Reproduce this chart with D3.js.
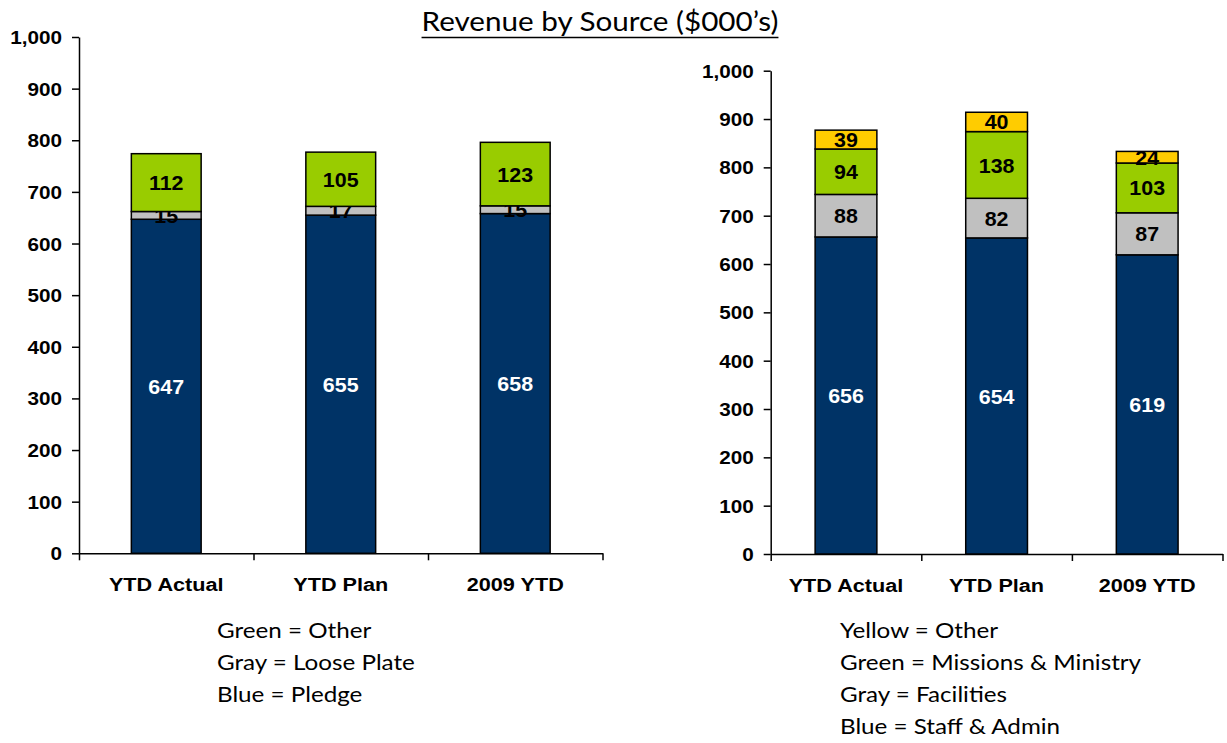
<!DOCTYPE html>
<html>
<head>
<meta charset="utf-8">
<script src="https://cdn.jsdelivr.net/npm/d3@7"></script>
<style>
  body { margin: 0; background: #fff; }
  svg text { font-family: "Liberation Sans", Arial, sans-serif; }
  .tick text { font-size: 18px; font-weight: bold; fill: #000; }
  .note { font-family: Lato, "Open Sans", sans-serif !important; font-size: 22px; }
</style>
</head>
<body>
<div id="chart"></div>
<script>
// categories shared by both panels
let categories = ["YTD Actual", "YTD Plan", "2009 YTD"];

// left panel: Pledge / Loose Plate / Other
let pledge = [647, 655, 658];
let loosePlate = [15, 17, 15];
let otherLeft = [112, 105, 123];

// right panel: Staff & Admin / Facilities / Missions & Ministry / Other
let staffAdmin = [656, 654, 619];
let facilities = [88, 82, 87];
let missions = [94, 138, 103];
let otherRight = [39, 40, 24];

let yTicks = [0, 100, 200, 300, 400, 500, 600, 700, 800, 900, 1000];
let leftNotes = ["Green = Other", "Gray = Loose Plate", "Blue = Pledge"];
let rightNotes = ["Yellow = Other", "Green = Missions & Ministry", "Gray = Facilities", "Blue = Staff & Admin"];

let navy = "#003366", gray = "#c0c0c0", green = "#99cc00", yellow = "#ffcc00";

let svg = d3.select("#chart").append("svg")
    .attr("width", 1227)
    .attr("height", 743);

// the source text is a bit wider than the fonts we have, so stretch it sideways
function stretch(sel, sx) {
    sel.each(function () {
        let t = d3.select(this);
        t.attr("x", (+t.attr("x") || 0) / sx)
         .attr("transform", "scale(" + sx + ",1)");
    });
}

// title
let title = svg.append("text")
    .attr("x", 600)
    .attr("y", 31)
    .attr("text-anchor", "middle")
    .attr("class", "note")
    .style("font-size", "26px")
    .text("Revenue by Source ($000\u2019s)")
    .call(stretch, 1.14);
let tb = title.node().getBBox();
svg.append("line")
    .attr("x1", tb.x * 1.14).attr("x2", (tb.x + tb.width) * 1.14)
    .attr("y1", 37.5).attr("y2", 37.5)
    .attr("stroke", "#000").attr("stroke-width", 1.5);

function drawPanel(cfg) {
    let rows = categories.map(function (c, i) {
        let r = { cat: c };
        cfg.series.forEach(function (s) { r[s.key] = s.values[i]; });
        return r;
    });
    let keys = cfg.series.map(function (s) { return s.key; });
    let stacked = d3.stack().keys(keys)(rows);

    let x = d3.scaleBand()
        .domain(categories)
        .range([cfg.left, cfg.right])
        .paddingInner(cfg.pad)
        .paddingOuter(cfg.pad / 2);
    let y = d3.scaleLinear()
        .domain([0, 1000])
        .range([cfg.bottom, cfg.top]);

    let g = svg.append("g");

    // y axis
    let yAxis = d3.axisLeft(y)
        .tickValues(yTicks)
        .tickFormat(d3.format(","))
        .tickSize(7)
        .tickSizeOuter(0)
        .tickPadding(10);
    let ya = g.append("g")
        .attr("transform", "translate(" + cfg.left + ",0)")
        .call(yAxis);
    ya.select(".domain").attr("stroke-width", 1.5);
    ya.selectAll(".tick line").attr("stroke-width", 1.5);
    ya.selectAll(".tick text").attr("dy", "0.36em").call(stretch, 1.15);

    // x axis with ticks at band boundaries
    let xb = d3.scaleLinear().domain([0, categories.length]).range([cfg.left, cfg.right]);
    let xa = g.append("g")
        .attr("transform", "translate(0," + cfg.bottom + ")")
        .call(d3.axisBottom(xb).ticks(categories.length).tickFormat("").tickSize(7).tickSizeOuter(0));
    xa.select(".domain").attr("stroke-width", 1.5);
    xa.selectAll(".tick line").attr("stroke-width", 1.5);

    g.selectAll(".cat")
        .data(categories)
        .enter().append("text")
        .attr("x", function (d) { return x(d) + x.bandwidth() / 2; })
        .attr("y", cfg.bottom + 38)
        .attr("text-anchor", "middle")
        .style("font-size", "19px")
        .style("font-weight", "bold")
        .text(function (d) { return d; })
        .call(stretch, 1.14);

    // bars
    let layers = g.selectAll(".layer")
        .data(stacked)
        .enter().append("g")
        .attr("fill", function (d, i) { return cfg.series[i].color; });

    layers.selectAll("rect")
        .data(function (d) { return d; })
        .enter().append("rect")
        .attr("x", function (d) { return x(d.data.cat); })
        .attr("y", function (d) { return y(d[1]); })
        .attr("width", x.bandwidth())
        .attr("height", function (d) { return y(d[0]) - y(d[1]); })
        .attr("stroke", "#000")
        .attr("stroke-width", 1.5);

    layers.each(function (layer, i) {
        d3.select(this).selectAll("text")
            .data(layer)
            .enter().append("text")
            .attr("x", function (d) { return x(d.data.cat) + x.bandwidth() / 2; })
            .attr("y", function (d) { return (y(d[0]) + y(d[1])) / 2; })
            .attr("dy", "0.36em")
            .attr("text-anchor", "middle")
            .style("font-size", "21px")
            .style("font-weight", "bold")
            .attr("fill", cfg.series[i].color === navy ? "#fff" : "#000")
            .text(function (d) { return d[1] - d[0]; })
            .call(stretch, 1.02);
    });

    // notes under the panel
    svg.selectAll(null)
        .data(cfg.notes)
        .enter().append("text")
        .attr("class", "note")
        .attr("x", cfg.noteX)
        .attr("y", function (d, i) { return 638 + i * 32; })
        .text(function (d) { return d; })
        .call(stretch, 1.1);
}

drawPanel({
    left: 79, right: 602.5, top: 37, bottom: 553.3, pad: 0.6,
    series: [
        { key: "Pledge", values: pledge, color: navy },
        { key: "Loose Plate", values: loosePlate, color: gray },
        { key: "Other", values: otherLeft, color: green }
    ],
    notes: leftNotes, noteX: 217
});

drawPanel({
    left: 770.7, right: 1222.5, top: 70.7, bottom: 554, pad: 0.59,
    series: [
        { key: "Staff & Admin", values: staffAdmin, color: navy },
        { key: "Facilities", values: facilities, color: gray },
        { key: "Missions & Ministry", values: missions, color: green },
        { key: "Other", values: otherRight, color: yellow }
    ],
    notes: rightNotes, noteX: 840
});
</script>
</body>
</html>
